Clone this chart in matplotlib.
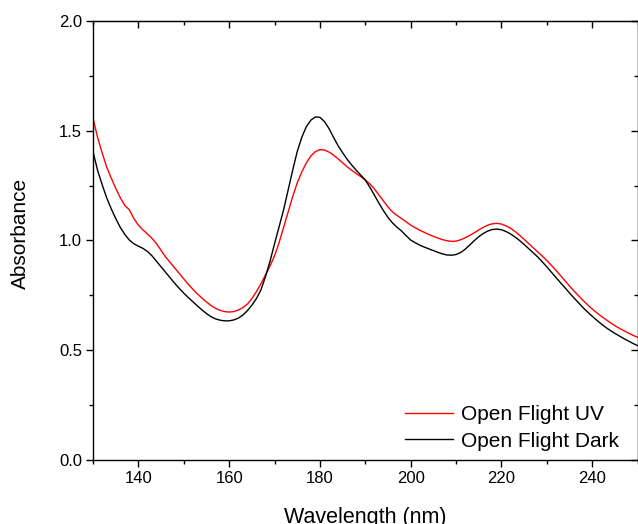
import numpy as np
import matplotlib
matplotlib.use("Agg")
import matplotlib.pyplot as plt
from matplotlib.ticker import MultipleLocator

plt.rcParams['font.family'] = ['Liberation Sans', 'DejaVu Sans']

# wavelength grid (nm), 1 nm steps
wavelength = np.arange(130, 251, 1)

# Open Flight UV (red)
absorb_uv = [1.557, 1.470, 1.400, 1.335, 1.285, 1.238, 1.195, 1.160, 1.140, 1.100,
             1.070, 1.048, 1.030, 1.010, 0.985, 0.955, 0.925, 0.900, 0.875, 0.850,
             0.825, 0.801, 0.778, 0.757, 0.738, 0.720, 0.704, 0.691, 0.682, 0.676,
             0.674, 0.676, 0.683, 0.694, 0.710, 0.735, 0.767, 0.803, 0.843, 0.884,
             0.930, 0.990, 1.060, 1.130, 1.200, 1.262, 1.312, 1.353, 1.385, 1.405,
             1.414, 1.412, 1.403, 1.389, 1.372, 1.354, 1.336, 1.320, 1.305, 1.291,
             1.276, 1.258, 1.235, 1.208, 1.180, 1.153, 1.130, 1.114, 1.100, 1.085,
             1.070, 1.058, 1.047, 1.037, 1.027, 1.019, 1.011, 1.004, 0.999, 0.996,
             0.997, 1.003, 1.012, 1.023, 1.035, 1.048, 1.060, 1.070, 1.076, 1.078,
             1.075, 1.067, 1.056, 1.041, 1.024, 1.005, 0.986, 0.967, 0.948, 0.929,
             0.909, 0.887, 0.865, 0.841, 0.817, 0.793, 0.770, 0.748, 0.727, 0.707,
             0.688, 0.671, 0.655, 0.640, 0.626, 0.612, 0.600, 0.589, 0.578, 0.568,
             0.559]

# Open Flight Dark (black)
absorb_dark = [1.405, 1.320, 1.255, 1.195, 1.145, 1.100, 1.060, 1.028, 1.002, 0.985,
               0.974, 0.964, 0.950, 0.930, 0.905, 0.880, 0.855, 0.830, 0.805, 0.782,
               0.760, 0.740, 0.721, 0.702, 0.684, 0.667, 0.653, 0.643, 0.637, 0.634,
               0.634, 0.638, 0.646, 0.660, 0.680, 0.705, 0.735, 0.775, 0.835, 0.905,
               0.985, 1.062, 1.140, 1.230, 1.320, 1.405, 1.470, 1.518, 1.548, 1.563,
               1.561, 1.542, 1.510, 1.470, 1.432, 1.400, 1.370, 1.344, 1.320, 1.298,
               1.275, 1.243, 1.207, 1.170, 1.136, 1.105, 1.080, 1.060, 1.043, 1.022,
               1.002, 0.990, 0.979, 0.970, 0.962, 0.954, 0.946, 0.939, 0.934, 0.933,
               0.936, 0.945, 0.960, 0.979, 0.999, 1.017, 1.032, 1.043, 1.050, 1.052,
               1.049, 1.041, 1.030, 1.016, 1.000, 0.982, 0.963, 0.944, 0.925, 0.903,
               0.880, 0.856, 0.832, 0.808, 0.785, 0.761, 0.738, 0.716, 0.694, 0.674,
               0.655, 0.637, 0.620, 0.604, 0.590, 0.577, 0.565, 0.553, 0.542, 0.531,
               0.521]

fig = plt.figure(figsize=(6.38, 5.24), dpi=100)
ax = fig.add_axes([0.1458, 0.1221, 0.8535, 0.8379])

ax.plot(wavelength, absorb_uv, color='#ff0000', lw=1.0, label='Open Flight UV')
ax.plot(wavelength, absorb_dark, color='#000000', lw=1.0, label='Open Flight Dark')

ax.set_xlim(130, 250)
ax.set_ylim(0, 2.0)
ax.xaxis.set_major_locator(MultipleLocator(20))
ax.xaxis.set_minor_locator(MultipleLocator(10))
ax.yaxis.set_major_locator(MultipleLocator(0.5))
ax.yaxis.set_minor_locator(MultipleLocator(0.25))
ax.yaxis.set_major_formatter(plt.FormatStrFormatter('%.1f'))

ax.tick_params(which='major', direction='out', length=5, width=1.0, labelsize=12, pad=3)
ax.tick_params(which='minor', direction='out', length=3, width=1.0)
for s in ax.spines.values():
    s.set_linewidth(1.0)

# top / right ticks point inwards
top = ax.secondary_xaxis('top')
top.xaxis.set_major_locator(MultipleLocator(20))
top.xaxis.set_minor_locator(MultipleLocator(10))
top.tick_params(which='major', direction='in', length=5, width=1.0, labeltop=False)
top.tick_params(which='minor', direction='in', length=3, width=1.0)
right = ax.secondary_yaxis('right')
right.yaxis.set_major_locator(MultipleLocator(0.5))
right.yaxis.set_minor_locator(MultipleLocator(0.25))
right.tick_params(which='major', direction='in', length=5, width=1.0, labelright=False)
right.tick_params(which='minor', direction='in', length=3, width=1.0)

ax.set_xlabel('Wavelength (nm)', fontsize=15.5, labelpad=15)
ax.set_ylabel('Absorbance', fontsize=15)
ax.yaxis.set_label_coords(-0.116, 0.517)

ax.legend(loc='lower right', frameon=False, fontsize=15, handlelength=2.3,
          handletextpad=0.4, labelspacing=0.35, borderaxespad=0.05,
          bbox_to_anchor=(0.983, 0.0))

fig.savefig('out.png', dpi=100)
